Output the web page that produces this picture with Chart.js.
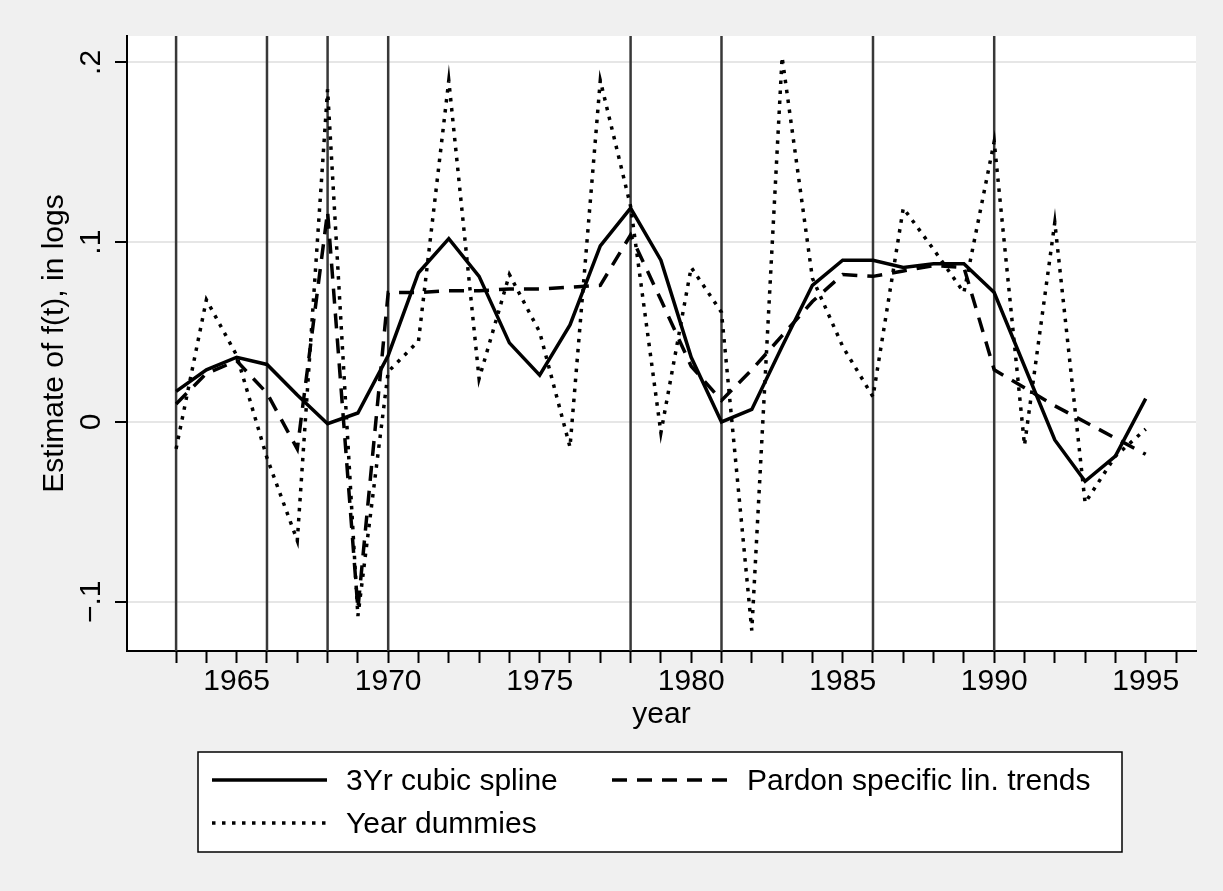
<!DOCTYPE html>
<html>
<head>
<meta charset="utf-8">
<script src="https://cdn.jsdelivr.net/npm/chart.js@4.4.1/dist/chart.umd.min.js"></script>
<style>
  body { margin: 0; background: #f0f0f0; }
  canvas { display: block; }
</style>
</head>
<body>
<canvas id="chart" width="1223" height="891"></canvas>
<script>
// values
const years = [1963, 1964, 1965, 1966, 1967, 1968, 1969, 1970, 1971, 1972, 1973,
               1974, 1975, 1976, 1977, 1978, 1979, 1980, 1981, 1982, 1983, 1984,
               1985, 1986, 1987, 1988, 1989, 1990, 1991, 1992, 1993, 1994, 1995];

const cubicSpline = [0.017, 0.029, 0.036, 0.032, 0.015, -0.001, 0.005, 0.037, 0.083, 0.102, 0.081,
                     0.044, 0.026, 0.054, 0.098, 0.119, 0.090, 0.036, 0.000, 0.007, 0.042, 0.076,
                     0.090, 0.090, 0.086, 0.088, 0.088, 0.072, 0.031, -0.010, -0.033, -0.019, 0.013];

const pardonTrends = [0.010, 0.027, 0.034, 0.016, -0.015, 0.117, -0.104, 0.072, 0.072, 0.073, 0.073,
                      0.074, 0.074, 0.075, 0.076, 0.104, 0.068, 0.031, 0.012, 0.029, 0.048, 0.067,
                      0.082, 0.081, 0.084, 0.087, 0.086, 0.029, 0.019, 0.009, 0.000, -0.009, -0.018];

const yearDummies = [-0.015, 0.068, 0.037, -0.020, -0.066, 0.185, -0.108, 0.028, 0.045, 0.190, 0.024,
                     0.082, 0.050, -0.014, 0.190, 0.120, -0.006, 0.086, 0.061, -0.116, 0.203, 0.080,
                     0.042, 0.014, 0.119, 0.096, 0.072, 0.156, -0.013, 0.111, -0.045, -0.019, -0.004];

// vertical reference lines
const breakYears = [1963, 1966, 1968, 1970, 1978, 1981, 1986, 1990];

// ticks
const xTickYears = [1963, 1964, 1965, 1966, 1967, 1968, 1969, 1970, 1971, 1972, 1973, 1974,
                    1975, 1976, 1977, 1978, 1979, 1980, 1981, 1982, 1983, 1984, 1985, 1986,
                    1987, 1988, 1989, 1990, 1991, 1992, 1993, 1994, 1995, 1996];
const xLabelYears = [1965, 1970, 1975, 1980, 1985, 1990, 1995];
const yTicks = [-0.1, 0, 0.1, 0.2];
const yTickLabels = ['\u2212.1', '0', '.1', '.2'];

const seriesNames = ['3Yr cubic spline', 'Pardon specific lin. trends', 'Year dummies'];

const FONT = "'Liberation Sans', Arial, Helvetica, sans-serif";
Chart.defaults.font.family = FONT;
Chart.defaults.color = '#000';

function pts(vals) {
    return years.map((yr, i) => ({ x: yr, y: vals[i] }));
}

const stataPlugin = {
    id: 'stata',
    beforeDraw(chart) {
        const { ctx, chartArea: a } = chart;
        ctx.save();
        ctx.fillStyle = '#f0f0f0';
        ctx.fillRect(0, 0, chart.width, chart.height);
        ctx.fillStyle = '#fff';
        ctx.fillRect(a.left, a.top, a.right - a.left, a.bottom - a.top);
        ctx.restore();
    },
    beforeDatasetsDraw(chart) {
        const { ctx, chartArea: a, scales } = chart;
        ctx.save();
        ctx.strokeStyle = '#383838';
        ctx.lineWidth = 2.5;
        breakYears.forEach(yr => {
            const x = scales.x.getPixelForValue(yr);
            ctx.beginPath();
            ctx.moveTo(x, a.top);
            ctx.lineTo(x, a.bottom);
            ctx.stroke();
        });
        ctx.restore();
    },
    afterDraw(chart) {
        const { ctx, scales } = chart;
        ctx.save();
        // rotated y tick labels, like Stata
        ctx.fillStyle = '#000';
        ctx.font = '30px ' + FONT;
        ctx.textAlign = 'center';
        ctx.textBaseline = 'alphabetic';
        yTicks.forEach((v, i) => {
            const y = scales.y.getPixelForValue(v);
            ctx.save();
            ctx.translate(100, y);
            ctx.rotate(-Math.PI / 2);
            ctx.fillText(yTickLabels[i], 0, 0);
            ctx.restore();
        });

        // legend box
        ctx.fillStyle = '#fff';
        ctx.fillRect(198, 752, 924, 100);
        ctx.strokeStyle = '#000';
        ctx.lineWidth = 1.5;
        ctx.strokeRect(198, 752, 924, 100);

        const slots = [
            { x0: 212, x1: 327, y: 780, tx: 346 },
            { x0: 612, x1: 728, y: 780, tx: 747 },
            { x0: 212, x1: 327, y: 823, tx: 346 }
        ];
        chart.data.datasets.forEach((ds, i) => {
            const s = slots[i];
            ctx.beginPath();
            ctx.setLineDash(ds.borderDash || []);
            ctx.lineWidth = ds.borderWidth;
            ctx.strokeStyle = ds.borderColor;
            ctx.moveTo(s.x0, s.y);
            ctx.lineTo(s.x1, s.y);
            ctx.stroke();
            ctx.setLineDash([]);
            ctx.fillStyle = '#000';
            ctx.textAlign = 'left';
            ctx.textBaseline = 'alphabetic';
            ctx.font = '30px ' + FONT;
            ctx.fillText(ds.label, s.tx, s.y + 10);
        });
        ctx.restore();
    }
};

new Chart(document.getElementById('chart'), {
    type: 'line',
    data: {
        datasets: [
            { label: seriesNames[0], data: pts(cubicSpline), borderColor: '#000', borderWidth: 3.5 },
            { label: seriesNames[1], data: pts(pardonTrends), borderColor: '#000', borderWidth: 3.5,
              borderDash: [15, 10] },
            { label: seriesNames[2], data: pts(yearDummies), borderColor: '#000', borderWidth: 3.5,
              borderDash: [3.5, 6.5] }
        ]
    },
    options: {
        responsive: false,
        devicePixelRatio: 1,
        animation: false,
        layout: { padding: { top: 36, right: 27, bottom: 158, left: 0 } },
        elements: { point: { radius: 0 }, line: { tension: 0, borderCapStyle: 'butt' } },
        plugins: { legend: { display: false }, tooltip: { enabled: false } },
        scales: {
            x: {
                type: 'linear',
                min: 1961.38,
                max: 1996.66,
                afterBuildTicks: scale => { scale.ticks = xTickYears.map(v => ({ value: v })); },
                afterFit: scale => { scale.height = 82; },
                ticks: {
                    autoSkip: false,
                    maxRotation: 0,
                    padding: 1,
                    font: { size: 30 },
                    callback: v => xLabelYears.includes(v) ? String(v) : ''
                },
                grid: { drawOnChartArea: false, drawTicks: true, tickLength: 12,
                        tickColor: '#000', tickWidth: 2 },
                border: { display: true, color: '#000', width: 2 },
                title: { display: true, text: 'year', font: { size: 30 }, padding: 0 }
            },
            y: {
                type: 'linear',
                min: -0.1274,
                max: 0.2147,
                afterBuildTicks: scale => { scale.ticks = yTicks.map(v => ({ value: v })); },
                afterFit: scale => { scale.width = 127; },
                ticks: { display: false },
                grid: { color: '#e6e6e6', lineWidth: 2, drawTicks: true, tickLength: 12,
                        tickColor: '#000', tickWidth: 2 },
                border: { display: true, color: '#000', width: 2 },
                title: { display: true, text: 'Estimate of f(t), in logs', font: { size: 30 },
                         padding: { top: 37, bottom: 0 } }
            }
        }
    },
    plugins: [stataPlugin]
});
</script>
</body>
</html>
